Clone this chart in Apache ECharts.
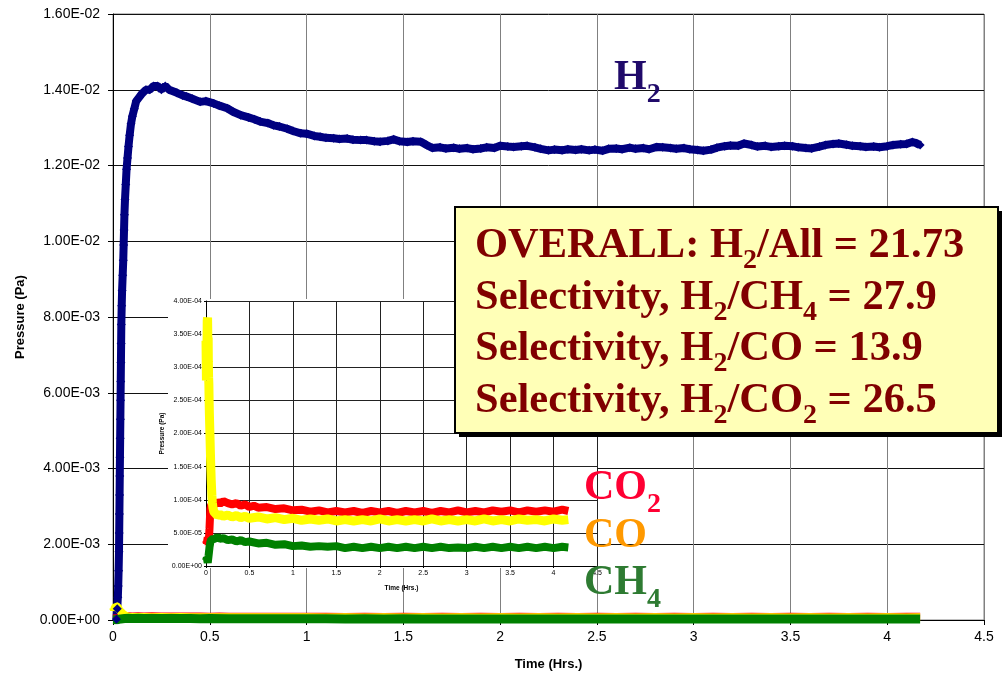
<!DOCTYPE html>
<html><head><meta charset="utf-8">
<script src="https://cdn.jsdelivr.net/npm/echarts@6/dist/echarts.min.js"></script>
<style>html,body{margin:0;padding:0;background:#fff}#c{width:1003px;height:675px}</style>
</head><body><div id="c"></div>
<script>
// ---- tick labels ----
const xTickLabels = ['0','0.5','1','1.5','2','2.5','3','3.5','4','4.5'];
const mainYTickLabels = ['0.00E+00','2.00E-03','4.00E-03','6.00E-03','8.00E-03','1.00E-02','1.20E-02','1.40E-02','1.60E-02'];
const insetYTickLabels = ['0.00E+00','5.00E-05','1.00E-04','1.50E-04','2.00E-04','2.50E-04','3.00E-04','3.50E-04','4.00E-04'];
const seriesNames = ['H2','CO2','CO','CH4'];

// ---- series values: [time (hrs), pressure (Pa)] ----
const h2Points = [
[0.018,0.00002],[0.022,0.0003],[0.025,0.0006],[0.027,0.0009],[0.029,0.0013],[0.031,0.0018],[0.032,0.0023],[0.033,0.0028],[0.034,0.0033],[0.035,0.0038],
[0.036,0.0043],[0.037,0.0048],[0.038,0.0053],[0.039,0.0058],[0.040,0.0063],[0.041,0.0068],[0.042,0.0073],[0.043,0.0078],[0.045,0.0083],[0.047,0.0087],
[0.050,0.0091],[0.053,0.0095],[0.055,0.0099],[0.057,0.0103],[0.059,0.0107],[0.062,0.0111],[0.066,0.0115],[0.070,0.0119],[0.075,0.0122],[0.080,0.0125],
[0.086,0.0128],[0.093,0.0131],[0.100,0.0133],[0.110,0.0135],[0.120,0.0137],[0.135,0.0138],[0.150,0.0139],[0.170,0.0140],[0.190,0.0140],[0.210,0.0141],
[0.230,0.0141],[0.250,0.0140],[0.270,0.0141],[0.290,0.0140],[0.33,0.01392],[0.36,0.01385],[0.38,0.01382],[0.41,0.01376],[0.45,0.01368],[0.48,0.01370],
[0.52,0.01364],[0.55,0.01358],[0.59,0.01351],[0.62,0.01342],[0.66,0.01333],[0.70,0.01327],[0.73,0.01322],[0.76,0.01316],[0.80,0.01312],[0.83,0.01306],
[0.86,0.01303],[0.90,0.01297],[0.93,0.01291],[0.97,0.01285],[1.00,0.01284],[1.04,0.01278],[1.07,0.01276],[1.10,0.01273],[1.14,0.01272],[1.17,0.01270],
[1.21,0.01271],[1.24,0.01268],[1.28,0.01267],[1.31,0.01267],[1.35,0.01264],[1.38,0.01263],[1.42,0.01265],[1.45,0.01269],[1.48,0.01264],[1.52,0.01262],
[1.55,0.01264],[1.59,0.01263],[1.62,0.01254],[1.65,0.01246],[1.69,0.01248],[1.72,0.01245],[1.76,0.01247],[1.79,0.01244],[1.83,0.01246],[1.86,0.01243],
[1.90,0.01245],[1.93,0.01248],[1.97,0.01246],[2.00,0.01252],[2.04,0.01250],[2.07,0.01249],[2.11,0.01251],[2.14,0.01252],[2.18,0.01248],[2.21,0.01244],
[2.25,0.01240],[2.28,0.01242],[2.32,0.01240],[2.35,0.01243],[2.39,0.01241],[2.42,0.01243],[2.46,0.01240],[2.49,0.01242],[2.53,0.01239],[2.56,0.01244],
[2.60,0.01245],[2.63,0.01243],[2.67,0.01247],[2.70,0.01244],[2.74,0.01246],[2.77,0.01243],[2.81,0.01249],[2.84,0.01248],[2.88,0.01246],[2.91,0.01244],
[2.95,0.01246],[2.98,0.01243],[3.02,0.01241],[3.05,0.01239],[3.09,0.01242],[3.12,0.01247],[3.16,0.01251],[3.19,0.01253],[3.23,0.01252],[3.26,0.01258],
[3.30,0.01254],[3.33,0.01250],[3.37,0.01252],[3.40,0.01249],[3.44,0.01251],[3.47,0.01252],[3.51,0.01251],[3.54,0.01248],[3.58,0.01246],[3.61,0.01245],
[3.65,0.01250],[3.68,0.01254],[3.72,0.01257],[3.75,0.01258],[3.79,0.01255],[3.82,0.01252],[3.86,0.01251],[3.89,0.01249],[3.93,0.01250],[3.96,0.01248],
[4.00,0.01251],[4.03,0.01254],[4.07,0.01256],[4.10,0.01257],[4.13,0.01262],[4.15,0.01259],[4.17,0.01254]
];
const co2Points = [
[0,3.9e-5],[0.01,3.5e-5],[0.02,4.3e-5],[0.03,3.2e-5],[0.04,5.6e-5],[0.05,8.6e-5],[0.06,9.3e-5],[0.08,9.6e-5],[0.10,9.3e-5],[0.13,9.7e-5],
[0.16,9.4e-5],[0.20,9.8e-5],[0.25,9.5e-5],[0.30,9.3e-5],[0.35,9.5e-5],[0.40,9.1e-5],[0.45,9.3e-5],[0.50,8.9e-5],[0.55,9.1e-5],[0.60,8.8e-5],
[0.70,8.9e-5],[0.80,8.6e-5],[0.90,8.7e-5],[1.00,8.4e-5],[1.10,8.5e-5],[1.20,8.2e-5],[1.30,8.4e-5],[1.40,8.1e-5],[1.50,8.3e-5],[1.60,8.1e-5],
[1.70,8.3e-5],[1.80,8.0e-5],[1.90,8.3e-5],[2.00,8.1e-5],[2.10,8.3e-5],[2.20,8.0e-5],[2.30,8.3e-5],[2.40,8.1e-5],[2.50,8.3e-5],[2.60,8.0e-5],
[2.70,8.3e-5],[2.80,8.1e-5],[2.90,8.4e-5],[3.00,8.1e-5],[3.10,8.3e-5],[3.20,8.1e-5],[3.30,8.4e-5],[3.40,8.2e-5],[3.50,8.4e-5],[3.60,8.1e-5],
[3.70,8.4e-5],[3.80,8.2e-5],[3.90,8.4e-5],[4.00,8.2e-5],[4.10,8.5e-5],[4.17,8.3e-5]
];
const coPoints = [
[0.000,3.40e-4],[0.005,2.80e-4],[0.010,3.00e-4],[0.014,3.70e-4],[0.018,3.75e-4],[0.020,3.55e-4],[0.022,3.20e-4],[0.025,3.45e-4],[0.027,3.08e-4],[0.030,2.85e-4],
[0.033,2.75e-4],[0.036,2.50e-4],[0.039,2.30e-4],[0.042,2.15e-4],[0.045,2.00e-4],[0.048,1.85e-4],[0.051,1.70e-4],[0.054,1.55e-4],[0.057,1.42e-4],[0.060,1.30e-4],
[0.064,1.18e-4],[0.068,1.06e-4],[0.073,9.6e-5],[0.080,8.8e-5],[0.090,8.2e-5],[0.10,7.9e-5],[0.13,7.6e-5],[0.16,7.8e-5],[0.20,7.5e-5],[0.25,7.7e-5],
[0.30,7.4e-5],[0.35,7.6e-5],[0.40,7.3e-5],[0.45,7.5e-5],[0.50,7.2e-5],[0.60,7.4e-5],[0.70,7.1e-5],[0.80,7.3e-5],[0.90,7.0e-5],[1.00,7.2e-5],
[1.10,6.9e-5],[1.20,7.1e-5],[1.30,6.9e-5],[1.40,7.1e-5],[1.50,6.8e-5],[1.60,7.0e-5],[1.70,6.8e-5],[1.80,7.0e-5],[1.90,6.8e-5],[2.00,7.1e-5],
[2.10,6.8e-5],[2.20,7.0e-5],[2.30,6.8e-5],[2.40,7.0e-5],[2.50,6.8e-5],[2.60,7.1e-5],[2.70,6.8e-5],[2.80,7.0e-5],[2.90,6.8e-5],[3.00,7.0e-5],
[3.10,6.8e-5],[3.20,7.1e-5],[3.30,6.8e-5],[3.40,7.0e-5],[3.50,6.8e-5],[3.60,7.1e-5],[3.70,6.9e-5],[3.80,7.0e-5],[3.90,6.8e-5],[4.00,7.1e-5],
[4.10,6.9e-5],[4.17,7.0e-5]
];
const ch4Points = [
[0,8e-6],[0.01,1.2e-5],[0.02,5e-6],[0.03,1.6e-5],[0.04,2.8e-5],[0.05,3.6e-5],[0.06,4.0e-5],[0.08,4.3e-5],[0.10,4.1e-5],[0.13,4.4e-5],
[0.16,4.1e-5],[0.20,4.2e-5],[0.25,3.9e-5],[0.30,4.0e-5],[0.35,3.7e-5],[0.40,3.9e-5],[0.45,3.6e-5],[0.50,3.7e-5],[0.60,3.4e-5],[0.70,3.5e-5],
[0.80,3.2e-5],[0.90,3.3e-5],[1.00,3.0e-5],[1.10,3.1e-5],[1.20,2.9e-5],[1.30,3.0e-5],[1.40,2.9e-5],[1.50,3.0e-5],[1.60,2.7e-5],[1.70,2.9e-5],
[1.80,2.7e-5],[1.90,2.9e-5],[2.00,2.7e-5],[2.10,2.9e-5],[2.20,2.7e-5],[2.30,2.9e-5],[2.40,2.7e-5],[2.50,2.9e-5],[2.60,2.7e-5],[2.70,2.9e-5],
[2.80,2.7e-5],[2.90,2.8e-5],[3.00,2.7e-5],[3.10,2.9e-5],[3.20,2.7e-5],[3.30,2.9e-5],[3.40,2.7e-5],[3.50,2.9e-5],[3.60,2.7e-5],[3.70,2.9e-5],
[3.80,2.7e-5],[3.90,2.9e-5],[4.00,2.7e-5],[4.10,2.9e-5],[4.17,2.8e-5]
];
const statLines = [
  ['OVERALL: H', '2', '/All = 21.73'],
  ['Selectivity, H', '2', '/CH', '4', ' = 27.9'],
  ['Selectivity, H', '2', '/CO = 13.9'],
  ['Selectivity, H', '2', '/CO', '2', ' = 26.5']
];

// ---- rendering ----
const chart = echarts.init(document.getElementById('c'), null, {renderer: 'canvas'});
const SANS = '"Liberation Sans", Arial, sans-serif';
const SERIF = '"Liberation Serif", "Times New Roman", serif';

function richLine(parts) {
  return parts.map((p, i) => (i % 2 === 0 ? '{m|' : '{s|') + p + '}').join('');
}
function richStyles(color, mainSize, subSize, drop) {
  return {
    m: {fontFamily: SERIF, fontWeight: 'bold', fontSize: mainSize, lineHeight: mainSize + 10, fill: color},
    s: {fontFamily: SERIF, fontWeight: 'bold', fontSize: subSize, lineHeight: 12, padding: [drop, 0, 0, 0], verticalAlign: 'middle', fill: color}
  };
}
function label(parts, x, y, color) {
  return {type: 'text', x: x, y: y, z: 30,
    style: {text: richLine(parts), rich: richStyles(color, 42, 28, 34), verticalAlign: 'middle', align: 'left'}};
}

const graphics = [
  {type: 'rect', z: 3, shape: {x: 168, y: 299, width: 430, height: 269}, style: {fill: '#ffffff'}},
  {type: 'rect', z: 20, shape: {x: 459, y: 211, width: 543, height: 226}, style: {fill: '#000'}},
  {type: 'rect', z: 21, shape: {x: 455, y: 207, width: 543, height: 226}, style: {fill: '#FFFFB7', stroke: '#000', lineWidth: 2}},
];
const lineCenters = [246, 298, 349, 401];
statLines.forEach((parts, i) => {
  graphics.push({type: 'text', x: 475, y: lineCenters[i], z: 22,
    style: {text: richLine(parts), rich: richStyles('#800000', 42.5, 28, 30), verticalAlign: 'middle', align: 'left'}});
});
graphics.push(label(['H', '2'], 614, 78, '#200a6a'));
graphics.push(label(['CO', '2'], 584, 488, '#FF0033'));
graphics.push(label(['CO'], 584, 536, '#FF9900'));
graphics.push(label(['CH', '4'], 584, 583, '#2E7B32'));

chart.setOption({
  animation: false,
  backgroundColor: '#fff',
  grid: [
    {left: 113, right: 19, top: 14, bottom: 55, containLabel: false, outerBoundsMode: 'none',
     show: true, borderColor: '#808080', borderWidth: 1},
    {left: 206, right: 406, top: 301, bottom: 109, containLabel: false, outerBoundsMode: 'none'}
  ],
  xAxis: [
    {type: 'value', gridIndex: 0, min: 0, max: 4.5, interval: 0.5,
     axisLine: {lineStyle: {color: '#000', width: 1}}, axisTick: {show: true, length: 5, lineStyle: {color: '#000'}},
     axisLabel: {fontFamily: SANS, fontSize: 14, color: '#000', margin: 10, formatter: v => xTickLabels[Math.round(v / 0.5)]},
     splitLine: {show: true, lineStyle: {color: '#808080', width: 1}},
     name: 'Time (Hrs.)', nameLocation: 'middle', nameGap: 38,
     nameTextStyle: {fontFamily: SANS, fontSize: 13, fontWeight: 'bold', color: '#000'}},
    {type: 'value', gridIndex: 1, min: 0, max: 4.5, interval: 0.5, z: 5,
     axisLine: {lineStyle: {color: '#000', width: 1}}, axisTick: {show: true, length: 2, lineStyle: {color: '#000'}},
     axisLabel: {fontFamily: SANS, fontSize: 7, color: '#000', margin: 4, formatter: v => xTickLabels[Math.round(v / 0.5)]},
     splitLine: {show: true, lineStyle: {color: '#222', width: 1}},
     name: 'Time (Hrs.)', nameLocation: 'middle', nameGap: 19,
     nameTextStyle: {fontFamily: SANS, fontSize: 6.5, fontWeight: 'bold', color: '#000'}}
  ],
  yAxis: [
    {type: 'value', gridIndex: 0, min: 0, max: 0.016, interval: 0.002,
     axisLine: {show: true, lineStyle: {color: '#000', width: 1}}, axisTick: {show: true, length: 5, lineStyle: {color: '#000'}},
     axisLabel: {fontFamily: SANS, fontSize: 14, color: '#000', margin: 13, formatter: v => mainYTickLabels[Math.round(v / 0.002)]},
     splitLine: {show: true, lineStyle: {color: '#111', width: 1}},
     name: 'Pressure (Pa)', nameLocation: 'middle', nameGap: 86,
     nameTextStyle: {fontFamily: SANS, fontSize: 13, fontWeight: 'bold', color: '#000'}},
    {type: 'value', gridIndex: 1, min: 0, max: 0.0004, interval: 0.00005, z: 5,
     axisLine: {show: true, lineStyle: {color: '#000', width: 1}}, axisTick: {show: true, length: 2, lineStyle: {color: '#000'}},
     axisLabel: {fontFamily: SANS, fontSize: 7, color: '#000', margin: 4, formatter: v => insetYTickLabels[Math.round(v / 0.00005)]},
     splitLine: {show: true, lineStyle: {color: '#222', width: 1}},
     name: 'Pressure (Pa)', nameLocation: 'middle', nameGap: 40,
     nameTextStyle: {fontFamily: SANS, fontSize: 6.5, fontWeight: 'bold', color: '#000'}}
  ],
  graphic: graphics,
  series: [
    {name: seriesNames[0], type: 'line', xAxisIndex: 0, yAxisIndex: 0, data: h2Points, z: 2,
     lineStyle: {color: '#000080', width: 8}, symbol: 'diamond', symbolSize: 9, showSymbol: true, showAllSymbol: true,
     itemStyle: {color: '#000080'}},
    {name: seriesNames[1], type: 'line', xAxisIndex: 0, yAxisIndex: 0, data: co2Points, z: 2,
     lineStyle: {color: '#FF0000', width: 8}, symbol: 'none'},
    {name: seriesNames[2], type: 'line', xAxisIndex: 0, yAxisIndex: 0, data: coPoints, z: 2,
     lineStyle: {color: '#FFFF00', width: 8}, symbol: 'none'},
    {name: seriesNames[3], type: 'line', xAxisIndex: 0, yAxisIndex: 0, data: ch4Points, z: 2,
     lineStyle: {color: '#008000', width: 9}, symbol: 'none'},
    {name: seriesNames[1] + ' inset', type: 'line', xAxisIndex: 1, yAxisIndex: 1, data: co2Points, z: 6,
     lineStyle: {color: '#FF0000', width: 8}, symbol: 'none'},
    {name: seriesNames[2] + ' inset', type: 'line', xAxisIndex: 1, yAxisIndex: 1, data: coPoints, z: 6,
     lineStyle: {color: '#FFFF00', width: 9}, symbol: 'none'},
    {name: seriesNames[3] + ' inset', type: 'line', xAxisIndex: 1, yAxisIndex: 1, data: ch4Points, z: 6,
     lineStyle: {color: '#008000', width: 8}, symbol: 'none'}
  ]
});
</script></body></html>
